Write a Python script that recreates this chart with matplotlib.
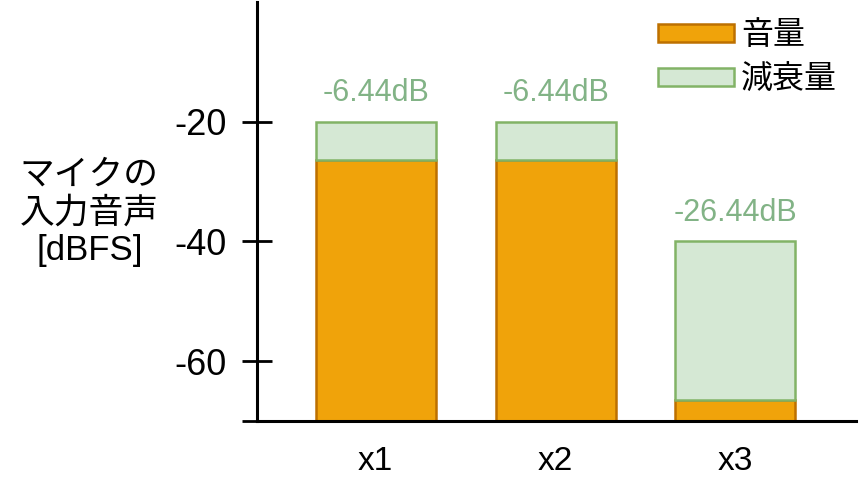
import matplotlib.pyplot as plt

plt.rcParams['font.family'] = ['Liberation Sans', 'Noto Sans CJK JP', 'DejaVu Sans']

# data
categories = ['x1', 'x2', 'x3']
input_level = [-20, -20, -40]       # マイクの入力音声 [dBFS]
attenuation = [6.44, 6.44, 26.44]   # 減衰量 [dB]
volume = [i - a for i, a in zip(input_level, attenuation)]  # 音量
floor = -70

fig = plt.figure(figsize=(8.61, 5.04), dpi=100)
ax = fig.add_axes([257 / 861, 83 / 504, 599 / 861, 419 / 504])

x = list(range(len(categories)))
w = 0.667
ax.bar(x, [v - floor for v in volume], bottom=floor, width=w,
       color='#F0A30A', edgecolor='#BD7000', linewidth=1.8, label='音量')
ax.bar(x, attenuation, bottom=volume, width=w,
       color='#D5E8D4', edgecolor='#82B366', linewidth=1.8, label='減衰量')

for xi, top, a in zip(x, input_level, attenuation):
    ax.annotate(f'-{a:.2f}dB', (xi, top), xytext=(0, 10), textcoords='offset points',
                ha='center', va='bottom', fontsize=22, color='#82B386')

ax.set_xlim(-0.66, 2.67)
ax.set_ylim(floor, 0)
ax.set_yticks([-70, -60, -40, -20])
ax.set_yticklabels(['', '-60', '-40', '-20'])
ax.set_xticks(x)
ax.set_xticklabels(categories)
ax.tick_params(axis='y', direction='inout', length=22, width=2, labelsize=26, pad=11)
ax.tick_params(axis='x', length=0, labelsize=24, pad=18)

for s in ['top', 'right']:
    ax.spines[s].set_visible(False)
for s in ['left', 'bottom']:
    ax.spines[s].set_linewidth(2.2)

ax.set_ylabel('マイクの\n入力音声\n[dBFS]', rotation=0, fontsize=25,
              ha='center', va='center', labelpad=0, linespacing=1.18)
ax.yaxis.set_label_coords(-0.28, 0.497)

ax.legend(loc='upper right', bbox_to_anchor=(1.0, 1.0), frameon=False, fontsize=23,
          handlelength=2.4, handleheight=0.5, handletextpad=0.2,
          labelspacing=0.45, borderaxespad=0.2)

plt.savefig('out.png', dpi=100)
